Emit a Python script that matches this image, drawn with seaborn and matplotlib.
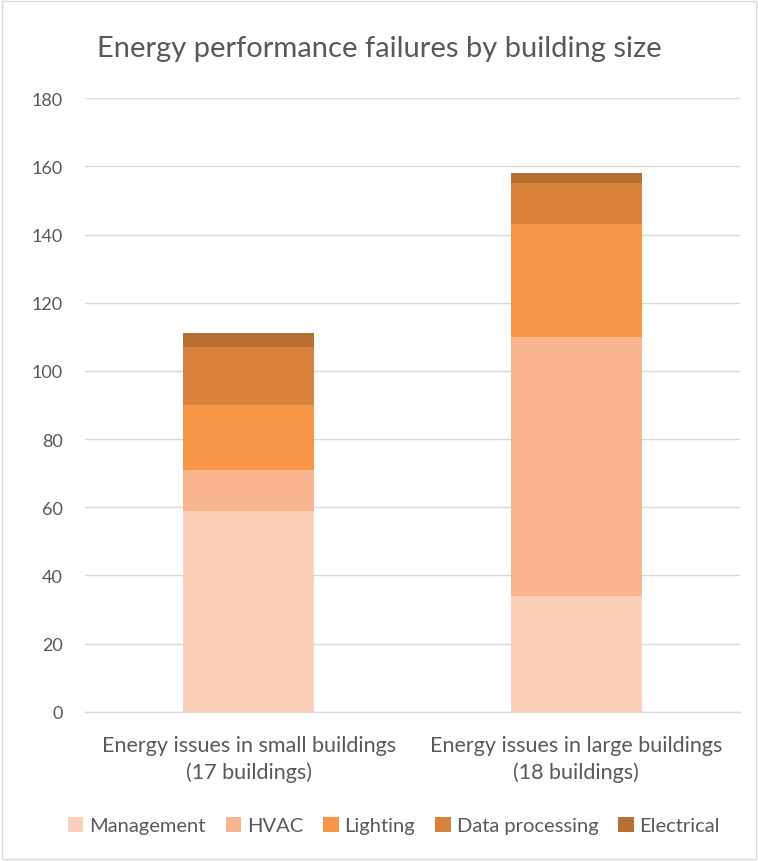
import matplotlib
matplotlib.use("Agg")
import matplotlib.pyplot as plt
import seaborn as sns
import pandas as pd
import numpy as np
from matplotlib.patches import Patch

# data
groups = ['Energy issues in small buildings\n(17 buildings)',
          'Energy issues in large buildings\n(18 buildings)']
categories = ['Management', 'HVAC', 'Lighting', 'Data processing', 'Electrical']
management = [59, 34]
hvac = [12, 76]
lighting = [19, 33]
data_processing = [17, 12]
electrical = [4, 3]
colors = ['#FBCFB8', '#F8B58F', '#F79646', '#D9823D', '#B96E32']

sns.set_theme(style='white')
plt.rcParams['font.family'] = ['Lato', 'DejaVu Sans']

values = np.array([management, hvac, lighting, data_processing, electrical])
cum = values.cumsum(axis=0)

fig = plt.figure(figsize=(7.58, 8.62), dpi=100)
ax = fig.add_axes([0.112, 0.173, 0.864, 0.712])

# stacked bars: draw cumulative totals from the top layer down
for i in range(len(categories) - 1, -1, -1):
    df = pd.DataFrame({'group': groups, 'total': cum[i]})
    sns.barplot(data=df, x='group', y='total', color=colors[i], width=0.4,
                saturation=1, ax=ax, zorder=3, edgecolor='none', linewidth=0)

ax.set_ylim(0, 180)
ax.set_yticks(range(0, 181, 20))
ax.set_xlim(-0.5, 1.5)
ax.set_xlabel('')
ax.set_ylabel('')
ax.yaxis.grid(True, color='#D9D9D9', linewidth=1, zorder=0)
ax.set_axisbelow(True)
for s in ['top', 'right', 'left']:
    ax.spines[s].set_visible(False)
ax.spines['bottom'].set_color('#D9D9D9')
ax.spines['bottom'].set_linewidth(1)
ax.tick_params(axis='y', length=0, pad=16, labelsize=13, labelcolor='#595959')
ax.tick_params(axis='x', length=0, pad=17, labelsize=15.5, labelcolor='#595959')
for lab in ax.get_xticklabels():
    lab.set_linespacing(1.35)

fig.text(0.5, 0.943, 'Energy performance failures by building size',
         ha='center', va='center', fontsize=21, color='#595959')

handles = [Patch(facecolor=c, edgecolor='none') for c in colors]
fig.legend(handles, categories, loc='center', bbox_to_anchor=(0.52, 0.041),
           ncol=5, frameon=False, fontsize=14.5, labelcolor='#595959',
           handlelength=0.75, handleheight=0.75, handletextpad=0.3,
           columnspacing=1.0)

fig.patches.append(plt.Rectangle((0.002, 0.002), 0.996, 0.996,
                                 transform=fig.transFigure, fill=False,
                                 edgecolor='#D9D9D9', linewidth=1))

fig.savefig('out.png', dpi=100)
